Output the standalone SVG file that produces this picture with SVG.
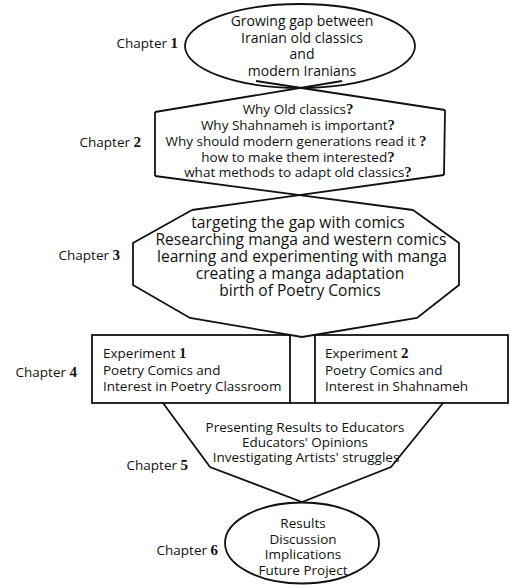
<svg xmlns="http://www.w3.org/2000/svg" width="510" height="585" viewBox="0 0 510 585">
  <style>
    .shape { fill: none; stroke: #111; stroke-width: 1.8; stroke-linejoin: miter; }
    .t { font-family: "Open Sans", "Noto Sans", sans-serif; font-size: 13.5px; fill: #111; }
    .c { text-anchor: middle; }
    .lbl { text-anchor: end; }
    .big { font-size: 15.6px; }
    .mid { font-size: 14px; }
    .b { font-family: "Liberation Serif", "DejaVu Serif", serif; font-weight: bold; font-size: 15px; }
  </style>
  <rect width="510" height="585" fill="#fff"/>

  <!-- connectors: crossing edges that join one shape to the next -->
  <g id="connectors" class="shape">
    <line x1="155" y1="112" x2="342" y2="81"/>
    <line x1="445" y1="110" x2="256" y2="81"/>
    <line x1="155" y1="176" x2="413" y2="210"/>
    <line x1="444" y1="175" x2="192" y2="210"/>
  </g>

  <!-- Chapter 1 -->
  <g id="chapter1">
    <ellipse class="shape" cx="300" cy="46" rx="115" ry="42" fill="#fff"/>
    <text class="t lbl" x="178" y="48">Chapter <tspan class="b">1</tspan></text>
    <text class="t c mid" x="302" y="26">Growing gap between</text>
    <text class="t c mid" x="302" y="42.5">Iranian old classics</text>
    <text class="t c mid" x="302" y="59">and</text>
    <text class="t c mid" x="302" y="75.5">modern Iranians</text>
  </g>

  <!-- Chapter 2 -->
  <g id="chapter2">
    <polyline class="shape" points="155,112 155,176"/>
    <polyline class="shape" points="445,110 444,175"/>
    <text class="t lbl" x="141" y="147">Chapter <tspan class="b">2</tspan></text>
    <text class="t c" x="298" y="114">Why  Old classics<tspan class="b">?</tspan></text>
    <text class="t c" x="298" y="130">Why Shahnameh is important<tspan class="b">?</tspan></text>
    <text class="t c" x="296" y="146">Why should modern generations read it <tspan class="b">?</tspan></text>
    <text class="t c" x="298" y="161.5">how to make them interested<tspan class="b">?</tspan></text>
    <text class="t c" x="298" y="177">what methods to adapt old classics<tspan class="b">?</tspan></text>
  </g>

  <!-- Chapter 3 -->
  <g id="chapter3">
    <polyline class="shape" points="192,210 133,243 133,285 190,318 302,337 417,318 459,285 459,243 413,210"/>
    <text class="t lbl" x="120" y="260">Chapter <tspan class="b">3</tspan></text>
    <text class="t c big" x="298" y="227.5">targeting the gap with comics</text>
    <text class="t c big" x="301" y="244.5">Researching  manga and western comics</text>
    <text class="t c big" x="302" y="261.5">learning and experimenting with manga</text>
    <text class="t c big" x="300" y="278.5">creating a manga adaptation</text>
    <text class="t c big" x="300" y="295.5">birth of Poetry Comics</text>
  </g>

  <!-- Chapter 4 -->
  <g id="chapter4">
    <rect class="shape" x="92" y="335" width="198" height="68"/>
    <rect class="shape" x="315" y="335" width="193" height="68"/>
    <line class="shape" x1="290" y1="403" x2="315" y2="403"/>
    <text class="t lbl" x="77" y="377">Chapter <tspan class="b">4</tspan></text>
    <text class="t" x="103" y="358">Experiment <tspan class="b">1</tspan></text>
    <text class="t" x="103" y="374.5">Poetry Comics and</text>
    <text class="t" x="103" y="391">Interest in Poetry Classroom</text>
    <text class="t" x="325" y="358">Experiment <tspan class="b">2</tspan></text>
    <text class="t" x="325" y="374.5">Poetry Comics and</text>
    <text class="t" x="325" y="391">Interest in Shahnameh</text>
  </g>

  <!-- Chapter 5 -->
  <g id="chapter5">
    <polyline class="shape" points="163,403 210,467 302,502 391,467 443,403"/>
    <text class="t lbl" x="188" y="470">Chapter <tspan class="b">5</tspan></text>
    <text class="t c" x="305" y="432">Presenting Results to Educators</text>
    <text class="t c" x="305" y="447">Educators' Opinions</text>
    <text class="t c" x="306" y="462">Investigating Artists' struggles</text>
  </g>

  <!-- Chapter 6 -->
  <g id="chapter6">
    <ellipse class="shape" cx="302" cy="543" rx="77" ry="40.5" fill="#fff"/>
    <text class="t lbl" x="218" y="555">Chapter <tspan class="b">6</tspan></text>
    <text class="t c" x="303" y="528">Results</text>
    <text class="t c" x="303" y="543.5">Discussion</text>
    <text class="t c" x="303" y="559">Implications</text>
    <text class="t c" x="303" y="575">Future Project</text>
  </g>
</svg>
